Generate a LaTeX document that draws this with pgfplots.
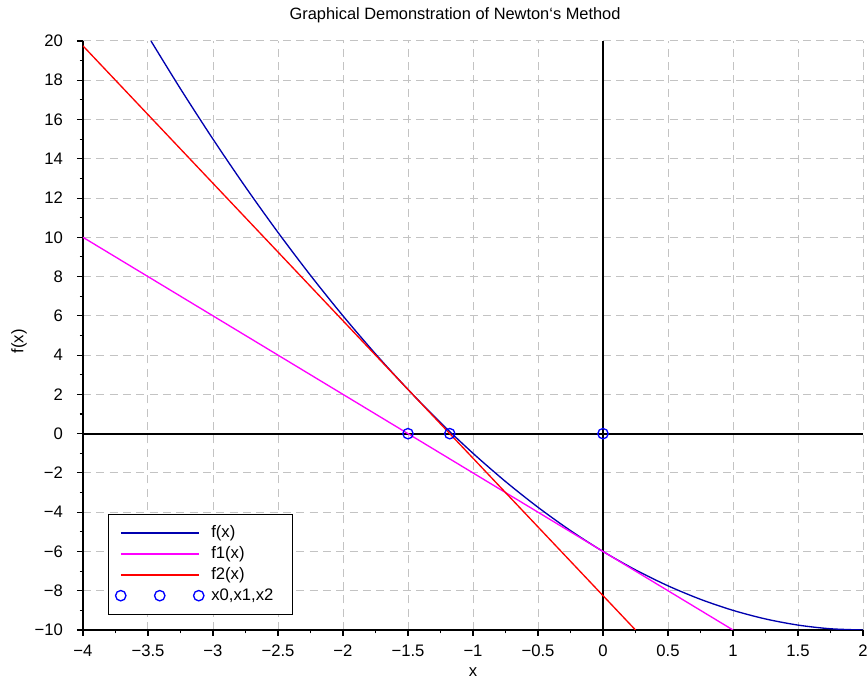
\documentclass[border=0pt]{standalone}
\usepackage{pgfplots}
\pgfplotsset{compat=1.18}
\usepackage{fontspec}
\setmainfont{Liberation Sans}
\definecolor{fblue}{RGB}{0,0,175}
\definecolor{fmag}{RGB}{255,0,255}
\definecolor{fred}{RGB}{255,0,0}
\definecolor{mblue}{RGB}{0,0,255}
\definecolor{gridgray}{RGB}{195,195,195}

\begin{document}
\begin{tikzpicture}[x=1pt,y=1pt]
% page: 867x680 px at 0.75pt per px, axis box at (83,41)-(863,630) px
\path[use as bounding box] (-62.25pt,-37.5pt) rectangle (588pt,472.5pt);
\begin{axis}[
    at={(0pt,0pt)}, anchor=south west,
    scale only axis,
    width=585pt, height=441.75pt,
    xmin=-4, xmax=2, ymin=-10, ymax=20,
    axis lines=left,
    axis line style={-, line width=1pt},
    tick align=outside,
    major tick length=4.5pt,
    minor tick length=2.5pt,
    tick style={black, line width=0.8pt},
    xtick={-4,-3.5,...,2},
    xticklabels={−4,−3.5,−3,−2.5,−2,−1.5,−1,−0.5,0,0.5,1,1.5,2},
    ytick={-10,-8,...,20},
    yticklabels={−10,−8,−6,−4,−2,0,2,4,6,8,10,12,14,16,18,20},
    minor x tick num=1,
    minor y tick num=1,
    grid=major,
    major grid style={gridgray, line width=0.75pt, dash pattern=on 6pt off 4pt},
    ticklabel style={font=\fontsize{12.5}{15}\selectfont},
    xticklabel style={yshift=-3pt},
    yticklabel style={xshift=-7pt},
    xlabel={x}, ylabel={f(x)},
    label style={font=\fontsize{12.5}{15}\selectfont},
    xlabel style={at={(0.5,-0.072)}, anchor=center},
    ylabel style={at={(-0.082,0.49)}, anchor=center},
    title={Graphical Demonstration of Newton‘s Method},
    every axis title shift=0pt,
    title style={at={(0.477,1.044)}, anchor=center, font=\fontsize{12.3}{15}\selectfont},
    legend style={at={(0.032,0.027)}, anchor=south west, draw=black,
        font=\fontsize{12.5}{15}\selectfont, cells={anchor=west},
        inner xsep=5pt, inner ysep=6.5pt, row sep=1.2pt},
]
% zero lines
\addplot[black, line width=1.5pt, forget plot] coordinates {(-4,0) (2,0)};
\addplot[black, line width=1.1pt, forget plot] coordinates {(0,-10) (0,20)};

% f(x)
\addplot[fblue, line width=1pt, smooth,
    legend image code/.code={\draw[fblue, line width=1pt] (0pt,0pt) -- (58.5pt,0pt);}]
    coordinates {
    (-3.477,20) (-3.25,17.5625) (-3.0,15) (-2.75,12.5625) (-2.5,10.25)
    (-2.25,8.0625) (-2.0,6) (-1.75,4.0625) (-1.5,2.25) (-1.25,0.5625)
    (-1.0,-1) (-0.75,-2.4375) (-0.5,-3.75) (-0.25,-4.9375) (0,-6)
    (0.25,-6.9375) (0.5,-7.75) (0.75,-8.4375) (1.0,-9) (1.25,-9.4375)
    (1.5,-9.75) (1.75,-9.9375) (2.0,-10)
};
\addlegendentry{\hspace{3pt}f(x)}
% f1(x)
\addplot[fmag, line width=1pt,
    legend image code/.code={\draw[fmag, line width=1pt] (0pt,0pt) -- (58.5pt,0pt);}]
    coordinates {(-4,10) (1,-10)};
\addlegendentry{\hspace{3pt}f1(x)}
% f2(x)
\addplot[fred, line width=1pt,
    legend image code/.code={\draw[fred, line width=1pt] (0pt,0pt) -- (58.5pt,0pt);}]
    coordinates {(-4,19.75) (0.25,-10)};
\addlegendentry{\hspace{3pt}f2(x)}
% x0, x1, x2
\addplot[only marks, mark=o, mark size=3.9pt, mark options={mblue, line width=1pt},
    legend image code/.code={%
        \draw[mblue, line width=1pt] (0pt,0pt) circle (3.9pt);
        \draw[mblue, line width=1pt] (29.25pt,0pt) circle (3.9pt);
        \draw[mblue, line width=1pt] (58.5pt,0pt) circle (3.9pt);}]
    coordinates {(0,0) (-1.5,0) (-1.1786,0)};
\addlegendentry{\hspace{3pt}x0,x1,x2\rule{7pt}{0pt}}
\end{axis}
\end{tikzpicture}
\end{document}
